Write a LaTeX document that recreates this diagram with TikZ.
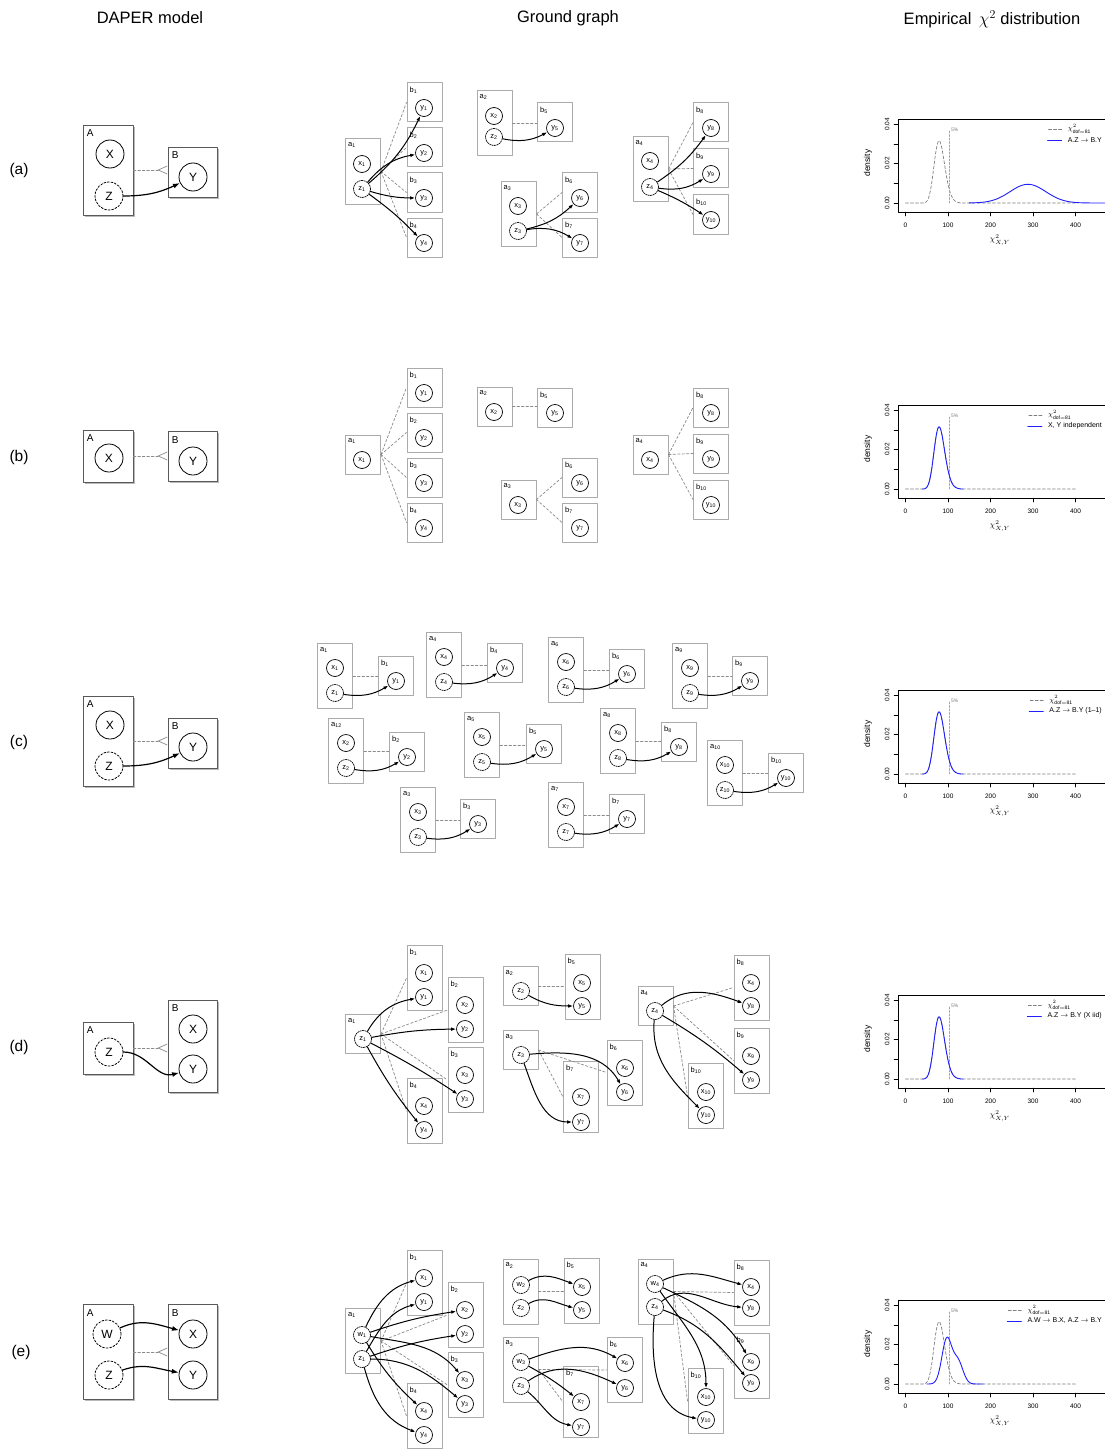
\documentclass[tikz,border=0pt]{standalone}
\usepackage{fontspec}
\setmainfont{Liberation Sans}
\usetikzlibrary{positioning, arrows.meta, shadows}
\definecolor{boxline}{HTML}{ABABAB}
\definecolor{plateline}{HTML}{8A8A8A}
\definecolor{chiline}{HTML}{7F7F7F}
\definecolor{simblue}{HTML}{1F1FFF}

\begin{document}
\begin{tikzpicture}[
  x=1pt, y=-1pt,
  line cap=round, line join=round,
  >={Latex[length=5pt, width=3.6pt]},
  declare function={chi(\t)=exp(39.5*ln(\t)-0.5*\t-136.545);},
  head/.style     = {font=\fontsize{16.5}{18}\selectfont, inner sep=0pt},
  rowlbl/.style   = {font=\fontsize{15.5}{17}\selectfont, inner sep=0pt},
  % DAPER model
  plate/.style    = {draw=black!65, line width=0.8pt, fill=white, inner sep=0pt,
                     minimum width=50pt,
                     drop shadow={shadow xshift=1.8pt, shadow yshift=-1.8pt,
                                  opacity=0.45, fill=black!60}},
  platelbl/.style = {font=\fontsize{10}{10}\selectfont, anchor=north west, inner sep=0pt},
  attr/.style     = {draw, circle, line width=0.8pt, fill=white, minimum size=28pt,
                     inner sep=0pt, font=\fontsize{12}{12}\selectfont},
  hid/.style      = {attr, dash pattern=on 2pt off 1.6pt},
  rel/.style      = {draw=plateline, line width=0.7pt, dash pattern=on 2.5pt off 2pt,
                     -{Straight Barb[reversed, length=9pt, width=8pt, line width=0.7pt]}},
  dep/.style      = {->, line width=1.2pt, >={Latex[length=7pt, width=5pt]}},
  % ground graph
  gbox/.style     = {draw=boxline, line width=1pt, minimum width=35pt,
                     minimum height=39pt, inner sep=0pt},
  gtall/.style    = {gbox, minimum height=65pt},
  glbl/.style     = {font=\fontsize{7.5}{7.5}\selectfont, anchor=north west, inner sep=0pt},
  gvar/.style     = {draw, circle, line width=0.7pt, fill=white, minimum size=17pt,
                     inner sep=0pt, font=\fontsize{7.5}{7.5}\selectfont},
  glat/.style     = {gvar, dash pattern=on 1.5pt off 1pt},
  gplate/.style   = {draw=plateline, line width=0.7pt, dash pattern=on 2.5pt off 2pt},
  gdep/.style     = {->, line width=1pt},
  % density plots
  tick/.style     = {font=\fontsize{6.5}{6.5}\selectfont, inner sep=0pt},
  axl/.style      = {font=\fontsize{8.5}{8.5}\selectfont, inner sep=0pt},
  lgd/.style      = {font=\fontsize{7}{7}\selectfont, inner sep=0pt},
  chidash/.style  = {draw=chiline, line width=0.7pt, dash pattern=on 3pt off 2pt},
  simcurve/.style = {draw=simblue, line width=0.9pt}
]

\fill[white] (0,0) rectangle (1104,1450);
\useasboundingbox (0,0) rectangle (1104,1450);

% column heads
\node[head] (h1) at (150,18) {DAPER model};
\node[head] (h2) at (568,18) {Ground graph};
\node[head] (h3) at (992,19) {Empirical \,$\chi^2$ distribution};

% row labels
\node[rowlbl] (la) at (19,170)  {(a)};
\node[rowlbl] (lb) at (19,457)  {(b)};
\node[rowlbl] (lc) at (19,742)  {(c)};
\node[rowlbl] (ld) at (19,1047) {(d)};
\node[rowlbl] (le) at (21,1352) {(e)};

% ---------------- DAPER models ----------------
% (a)
\node[plate, minimum height=90pt] (ra-A) at (108,170) {};
\node[plate, minimum width=49pt, minimum height=50pt] (ra-B) at (192.5,172) {};
\node[platelbl] (ra-Al) at ([shift={(4,5)}]ra-A.north west) {A};
\node[platelbl] (ra-Bl) at ([shift={(4,5)}]ra-B.north west) {B};
\node[attr] (ra-X) at (110,154) {X};
\node[hid]  (ra-Z) at (109,196) {Z};
\node[attr] (ra-Y) at (193,177) {Y};
\draw[rel] (ra-A.east) -- (ra-A.east -| ra-B.west);
\draw[dep] (ra-Z) to[out=0, in=205] (ra-Y);
% (b)
\node[plate, minimum height=52pt] (rb-A) at (108,456) {};
\node[plate, minimum width=49pt, minimum height=50pt] (rb-B) at (192.5,456.5) {};
\node[platelbl] (rb-Al) at ([shift={(4,5)}]rb-A.north west) {A};
\node[platelbl] (rb-Bl) at ([shift={(4,5)}]rb-B.north west) {B};
\node[attr] (rb-X) at (109,458) {X};
\node[attr] (rb-Y) at (193,461) {Y};
\draw[rel] (rb-A.east) -- (rb-A.east -| rb-B.west);
% (c)
\node[plate, minimum height=90pt] (rc-A) at (108,741) {};
\node[plate, minimum width=49pt, minimum height=50pt] (rc-B) at (192.5,743) {};
\node[platelbl] (rc-Al) at ([shift={(4,5)}]rc-A.north west) {A};
\node[platelbl] (rc-Bl) at ([shift={(4,5)}]rc-B.north west) {B};
\node[attr] (rc-X) at (110,725) {X};
\node[hid]  (rc-Z) at (109,766) {Z};
\node[attr] (rc-Y) at (193,747) {Y};
\draw[rel] (rc-A.east) -- (rc-A.east -| rc-B.west);
\draw[dep] (rc-Z) to[out=0, in=205] (rc-Y);
% (d)
\node[plate, minimum height=52pt] (rd-A) at (108,1048) {};
\node[plate, minimum width=49pt, minimum height=92pt] (rd-B) at (192.5,1046) {};
\node[platelbl] (rd-Al) at ([shift={(4,5)}]rd-A.north west) {A};
\node[platelbl] (rd-Bl) at ([shift={(4,5)}]rd-B.north west) {B};
\node[hid]  (rd-Z) at (109,1052) {Z};
\node[attr] (rd-X) at (193,1029) {X};
\node[attr] (rd-Y) at (193,1069) {Y};
\draw[rel] (rd-A.east) -- (rd-A.east -| rd-B.west);
\draw[dep] (rd-Z) to[out=0, in=195] (rd-Y);
% (e)
\node[plate, minimum height=95pt] (re-A) at (108,1352) {};
\node[plate, minimum width=49pt, minimum height=95pt] (re-B) at (192.5,1352) {};
\node[platelbl] (re-Al) at ([shift={(4,5)}]re-A.north west) {A};
\node[platelbl] (re-Bl) at ([shift={(4,5)}]re-B.north west) {B};
\node[hid]  (re-W) at (107,1334) {W};
\node[hid]  (re-Z) at (109,1375) {Z};
\node[attr] (re-X) at (193,1334) {X};
\node[attr] (re-Y) at (193,1375) {Y};
\draw[rel] (re-A.east) -- (re-A.east -| re-B.west);
\draw[dep] (re-W) to[out=25, in=165] (re-X);
\draw[dep] (re-Z) to[out=20, in=170] (re-Y);

% ---------------- ground graph (a) ----------------
\node[gtall] (ra-a1) at (363,171.5) {};
\node[glbl] (ra-la1) at ([shift={(3,4)}]ra-a1.north west) {a\textsubscript{1}};
\node[gvar] (ra-x1) at (362,164) {x\textsubscript{1}};
\node[glat] (ra-z1) at (362,189) {z\textsubscript{1}};
\foreach \k/\yy in {1/108, 2/153, 3/198, 4/243} {
  \node[gbox] (ra-b\k) at (424.5,\yy-5.5) {};
  \node[glbl] (ra-lb\k) at ([shift={(3,4)}]ra-b\k.north west) {b\textsubscript{\k}};
  \node[gvar] (ra-y\k) at (424,\yy) {y\textsubscript{\k}};
  \draw[gplate] (ra-a1.east) -- (ra-b\k.west);
}
\node[gtall] (ra-a2) at (494.5,123) {};
\node[glbl] (ra-la2) at ([shift={(3,4)}]ra-a2.north west) {a\textsubscript{2}};
\node[gvar] (ra-x2) at (494,116) {x\textsubscript{2}};
\node[glat] (ra-z2) at (494,137) {z\textsubscript{2}};
\node[gbox] (ra-b5) at (555,122.5) {};
\node[glbl] (ra-lb5) at ([shift={(3,4)}]ra-b5.north west) {b\textsubscript{5}};
\node[gvar] (ra-y5) at (555,128) {y\textsubscript{5}};
\draw[gplate] (ra-a2.east) -- (ra-a2.east -| ra-b5.west);
\node[gtall] (ra-a3) at (518.5,214) {};
\node[glbl] (ra-la3) at ([shift={(3,4)}]ra-a3.north west) {a\textsubscript{3}};
\node[gvar] (ra-x3) at (518,206) {x\textsubscript{3}};
\node[glat] (ra-z3) at (518,231) {z\textsubscript{3}};
\foreach \k/\yy in {6/198, 7/243} {
  \node[gbox] (ra-b\k) at (580,\yy-5.5) {};
  \node[glbl] (ra-lb\k) at ([shift={(3,4)}]ra-b\k.north west) {b\textsubscript{\k}};
  \node[gvar] (ra-y\k) at (580,\yy) {y\textsubscript{\k}};
  \draw[gplate] (ra-a3.east) -- (ra-b\k.west);
}
\node[gtall] (ra-a4) at (650.5,169) {};
\node[glbl] (ra-la4) at ([shift={(3,4)}]ra-a4.north west) {a\textsubscript{4}};
\node[gvar] (ra-x4) at (650,161) {x\textsubscript{4}};
\node[glat] (ra-z4) at (650,187) {z\textsubscript{4}};
\foreach \k/\yy in {8/128, 9/174, 10/220} {
  \node[gbox] (ra-b\k) at (711,\yy-5.5) {};
  \node[glbl] (ra-lb\k) at ([shift={(3,4)}]ra-b\k.north west) {b\textsubscript{\k}};
  \node[gvar] (ra-y\k) at (711,\yy) {y\textsubscript{\k}};
  \draw[gplate] (ra-a4.east) -- (ra-b\k.west);
}
\draw[gdep] (ra-z1) to[bend right=12] (ra-y1);
\draw[gdep] (ra-z1) to[bend left=20] (ra-y2);
\draw[gdep] (ra-z1) to[bend right=8] (ra-y3);
\draw[gdep] (ra-z1) to[bend left=5] (ra-y4);
\draw[gdep] (ra-z2) to[bend right=20] (ra-y5);
\draw[gdep] (ra-z3) to[bend right=15] (ra-y6);
\draw[gdep] (ra-z3) to[bend left=20] (ra-y7);
\draw[gdep] (ra-z4) to[bend right=10] (ra-y8);
\draw[gdep] (ra-z4) to[bend right=20] (ra-y9);
\draw[gdep] (ra-z4) to[bend left=5] (ra-y10);

% ---------------- ground graph (b) ----------------
\node[gbox] (rb-a1) at (363,454.5) {};
\node[glbl] (rb-la1) at ([shift={(3,4)}]rb-a1.north west) {a\textsubscript{1}};
\node[gvar] (rb-x1) at (362,460) {x\textsubscript{1}};
\foreach \k/\yy in {1/393, 2/438, 3/483, 4/528} {
  \node[gbox] (rb-b\k) at (424.5,\yy-5.5) {};
  \node[glbl] (rb-lb\k) at ([shift={(3,4)}]rb-b\k.north west) {b\textsubscript{\k}};
  \node[gvar] (rb-y\k) at (424,\yy) {y\textsubscript{\k}};
  \draw[gplate] (rb-a1.east) -- (rb-b\k.west);
}
\node[gbox] (rb-a2) at (494.5,406.5) {};
\node[glbl] (rb-la2) at ([shift={(3,4)}]rb-a2.north west) {a\textsubscript{2}};
\node[gvar] (rb-x2) at (494,412) {x\textsubscript{2}};
\node[gbox] (rb-b5) at (555,407.5) {};
\node[glbl] (rb-lb5) at ([shift={(3,4)}]rb-b5.north west) {b\textsubscript{5}};
\node[gvar] (rb-y5) at (555,413) {y\textsubscript{5}};
\draw[gplate] (rb-a2.east) -- (rb-a2.east -| rb-b5.west);
\node[gbox] (rb-a3) at (518.5,499.5) {};
\node[glbl] (rb-la3) at ([shift={(3,4)}]rb-a3.north west) {a\textsubscript{3}};
\node[gvar] (rb-x3) at (518,505) {x\textsubscript{3}};
\foreach \k/\yy in {6/483, 7/528} {
  \node[gbox] (rb-b\k) at (580,\yy-5.5) {};
  \node[glbl] (rb-lb\k) at ([shift={(3,4)}]rb-b\k.north west) {b\textsubscript{\k}};
  \node[gvar] (rb-y\k) at (580,\yy) {y\textsubscript{\k}};
  \draw[gplate] (rb-a3.east) -- (rb-b\k.west);
}
\node[gbox] (rb-a4) at (650.5,454.5) {};
\node[glbl] (rb-la4) at ([shift={(3,4)}]rb-a4.north west) {a\textsubscript{4}};
\node[gvar] (rb-x4) at (650,460) {x\textsubscript{4}};
\foreach \k/\yy in {8/413, 9/459, 10/505} {
  \node[gbox] (rb-b\k) at (711,\yy-5.5) {};
  \node[glbl] (rb-lb\k) at ([shift={(3,4)}]rb-b\k.north west) {b\textsubscript{\k}};
  \node[gvar] (rb-y\k) at (711,\yy) {y\textsubscript{\k}};
  \draw[gplate] (rb-a4.east) -- (rb-b\k.west);
}

% ---------------- ground graph (c): one a per b ----------------
\foreach \i/\al/\ax/\ay/\bx/\by in {1/1/335/668/396/681, 2/12/346/743/407/757,
    3/3/418/812/478/824, 4/4/444/657/505/668, 5/5/482/737/544/749,
    6/6/566/662/627/674, 7/7/566/807/627/819, 8/8/618/733/679/747,
    9/9/690/668/750/681, 10/10/725/765/786/778} {
  \node[gtall] (rc-a\i) at (\ax,\ay+8) {};
  \node[glbl] (rc-la\i) at ([shift={(3,4)}]rc-a\i.north west) {a\textsubscript{\al}};
  \node[gvar] (rc-x\i) at (\ax,\ay) {x\textsubscript{\i}};
  \node[glat] (rc-z\i) at (\ax,\ay+25) {z\textsubscript{\i}};
  \node[gbox] (rc-b\i) at (\bx,\by-5) {};
  \node[glbl] (rc-lb\i) at ([shift={(3,4)}]rc-b\i.north west) {b\textsubscript{\i}};
  \node[gvar] (rc-y\i) at (\bx,\by) {y\textsubscript{\i}};
  \draw[gplate] (rc-a\i.east) -- (rc-a\i.east -| rc-b\i.west);
  \draw[gdep] (rc-z\i) to[bend right=20] (rc-y\i);
}

% ---------------- ground graph (d) ----------------
\node[gbox] (rd-a1) at (363,1034) {};
\node[glbl] (rd-la1) at ([shift={(3,4)}]rd-a1.north west) {a\textsubscript{1}};
\node[glat] (rd-z1) at (363,1039) {z\textsubscript{1}};
\foreach \k/\bx/\yy in {1/424/973, 2/465/1005, 3/465/1075, 4/424/1106} {
  \node[gtall] (rd-b\k) at (\bx+0.5,\yy+5) {};
  \node[glbl] (rd-lb\k) at ([shift={(3,4)}]rd-b\k.north west) {b\textsubscript{\k}};
  \node[gvar] (rd-x\k) at (\bx,\yy) {x\textsubscript{\k}};
  \node[gvar] (rd-y\k) at (\bx,\yy+24) {y\textsubscript{\k}};
  \draw[gplate] (rd-a1.east) -- (rd-b\k.west);
}
\node[gbox] (rd-a2) at (520.5,986) {};
\node[glbl] (rd-la2) at ([shift={(3,4)}]rd-a2.north west) {a\textsubscript{2}};
\node[glat] (rd-z2) at (521,991) {z\textsubscript{2}};
\node[gtall] (rd-b5) at (582.5,986.5) {};
\node[glbl] (rd-lb5) at ([shift={(3,4)}]rd-b5.north west) {b\textsubscript{5}};
\node[gvar] (rd-x5) at (582,983) {x\textsubscript{5}};
\node[gvar] (rd-y5) at (582,1006) {y\textsubscript{5}};
\draw[gplate] (rd-a2.east) -- (rd-a2.east -| rd-b5.west);
\node[gbox] (rd-a3) at (520.5,1050) {};
\node[glbl] (rd-la3) at ([shift={(3,4)}]rd-a3.north west) {a\textsubscript{3}};
\node[glat] (rd-z3) at (521,1055) {z\textsubscript{3}};
\node[gtall] (rd-b6) at (624.5,1072.5) {};
\node[glbl] (rd-lb6) at ([shift={(3,4)}]rd-b6.north west) {b\textsubscript{6}};
\node[gvar] (rd-x6) at (625,1068) {x\textsubscript{6}};
\node[gvar] (rd-y6) at (625,1092) {y\textsubscript{6}};
\node[gtall, minimum height=71pt] (rd-b7) at (581,1097) {};
\node[glbl] (rd-lb7) at ([shift={(3,4)}]rd-b7.north west) {b\textsubscript{7}};
\node[gvar] (rd-x7) at (581,1097) {x\textsubscript{7}};
\node[gvar] (rd-y7) at (581,1122) {y\textsubscript{7}};
\draw[gplate] (rd-a3.east) -- (rd-b6.west);
\draw[gplate] (rd-a3.east) -- (rd-b7.west);
\node[gbox] (rd-a4) at (655.5,1006) {};
\node[glbl] (rd-la4) at ([shift={(3,4)}]rd-a4.north west) {a\textsubscript{4}};
\node[glat] (rd-z4) at (655,1011) {z\textsubscript{4}};
\node[gtall] (rd-b8) at (751.5,987.5) {};
\node[glbl] (rd-lb8) at ([shift={(3,4)}]rd-b8.north west) {b\textsubscript{8}};
\node[gvar] (rd-x8) at (751,983) {x\textsubscript{4}};
\node[gvar] (rd-y8) at (751,1006) {y\textsubscript{8}};
\node[gtall] (rd-b9) at (751.5,1060.5) {};
\node[glbl] (rd-lb9) at ([shift={(3,4)}]rd-b9.north west) {b\textsubscript{9}};
\node[gvar] (rd-x9) at (751,1056) {x\textsubscript{9}};
\node[gvar] (rd-y9) at (751,1080) {y\textsubscript{9}};
\node[gtall] (rd-b10) at (705.5,1096) {};
\node[glbl] (rd-lb10) at ([shift={(3,4)}]rd-b10.north west) {b\textsubscript{10}};
\node[gvar] (rd-x10) at (706,1092) {x\textsubscript{10}};
\node[gvar] (rd-y10) at (706,1115) {y\textsubscript{10}};
\foreach \k in {8,9,10}
  \draw[gplate] (rd-a4.east) -- (rd-b\k.west);
\draw[gdep] (rd-z1) to[out=60, in=190] (rd-y1);
\draw[gdep] (rd-z1) to[bend left=5] (rd-y2);
\draw[gdep] (rd-z1) to[bend left=3] (rd-y3);
\draw[gdep] (rd-z1) to[bend right=5] (rd-y4);
\draw[gdep] (rd-z2) to[out=-30, in=180] (rd-y5);
\draw[gdep] (rd-z3) to[out=5, in=120] (rd-y6);
\draw[gdep] (rd-z3) to[out=-70, in=180] (rd-y7);
\draw[gdep] (rd-z4) to[out=40, in=160] (rd-y8);
\draw[gdep] (rd-z4) to[bend left=5] (rd-y9);
\draw[gdep] (rd-z4) to[out=-95, in=135] (rd-y10);

% ---------------- ground graph (e) ----------------
\node[gtall] (re-a1) at (363,1341) {};
\node[glbl] (re-la1) at ([shift={(3,4)}]re-a1.north west) {a\textsubscript{1}};
\node[glat] (re-w1) at (362,1335) {w\textsubscript{1}};
\node[glat] (re-z1) at (362,1359) {z\textsubscript{1}};
\foreach \k/\bx/\yy in {1/424/1278, 2/465/1310, 3/465/1380, 4/424/1411} {
  \node[gtall] (re-b\k) at (\bx+0.5,\yy+5) {};
  \node[glbl] (re-lb\k) at ([shift={(3,4)}]re-b\k.north west) {b\textsubscript{\k}};
  \node[gvar] (re-x\k) at (\bx,\yy) {x\textsubscript{\k}};
  \node[gvar] (re-y\k) at (\bx,\yy+24) {y\textsubscript{\k}};
  \draw[gplate] (re-a1.east) -- (re-b\k.west);
}
\node[gtall] (re-a2) at (520.5,1291.5) {};
\node[glbl] (re-la2) at ([shift={(3,4)}]re-a2.north west) {a\textsubscript{2}};
\node[glat] (re-w2) at (521,1285) {w\textsubscript{2}};
\node[glat] (re-z2) at (521,1308) {z\textsubscript{2}};
\node[gtall] (re-b5) at (581.5,1291) {};
\node[glbl] (re-lb5) at ([shift={(3,4)}]re-b5.north west) {b\textsubscript{5}};
\node[gvar] (re-x5) at (582,1287) {x\textsubscript{5}};
\node[gvar] (re-y5) at (582,1310) {y\textsubscript{5}};
\draw[gplate] (re-a2.east) -- (re-a2.east -| re-b5.west);
\node[gtall] (re-a3) at (520.5,1369.5) {};
\node[glbl] (re-la3) at ([shift={(3,4)}]re-a3.north west) {a\textsubscript{3}};
\node[glat] (re-w3) at (521,1362) {w\textsubscript{3}};
\node[glat] (re-z3) at (521,1386) {z\textsubscript{3}};
\node[gtall] (re-b6) at (624.5,1370) {};
\node[glbl] (re-lb6) at ([shift={(3,4)}]re-b6.north west) {b\textsubscript{6}};
\node[gvar] (re-x6) at (625,1363) {x\textsubscript{6}};
\node[gvar] (re-y6) at (625,1388) {y\textsubscript{6}};
\node[gtall, minimum height=71pt] (re-b7) at (581,1402) {};
\node[glbl] (re-lb7) at ([shift={(3,4)}]re-b7.north west) {b\textsubscript{7}};
\node[gvar] (re-x7) at (581,1402) {x\textsubscript{7}};
\node[gvar] (re-y7) at (581,1427) {y\textsubscript{7}};
\draw[gplate] (re-a3.east) -- (re-b6.west);
\draw[gplate] (re-a3.east) -- (re-b7.west);
\node[gtall] (re-a4) at (655.5,1291.5) {};
\node[glbl] (re-la4) at ([shift={(3,4)}]re-a4.north west) {a\textsubscript{4}};
\node[glat] (re-w4) at (655,1284) {w\textsubscript{4}};
\node[glat] (re-z4) at (655,1307) {z\textsubscript{4}};
\node[gtall] (re-b8) at (751.5,1292.5) {};
\node[glbl] (re-lb8) at ([shift={(3,4)}]re-b8.north west) {b\textsubscript{8}};
\node[gvar] (re-x8) at (751,1287) {x\textsubscript{4}};
\node[gvar] (re-y8) at (751,1308) {y\textsubscript{8}};
\node[gtall] (re-b9) at (751.5,1365.5) {};
\node[glbl] (re-lb9) at ([shift={(3,4)}]re-b9.north west) {b\textsubscript{9}};
\node[gvar] (re-x9) at (751,1362) {x\textsubscript{9}};
\node[gvar] (re-y9) at (751,1383) {y\textsubscript{9}};
\node[gtall] (re-b10) at (705.5,1401) {};
\node[glbl] (re-lb10) at ([shift={(3,4)}]re-b10.north west) {b\textsubscript{10}};
\node[gvar] (re-x10) at (706,1397) {x\textsubscript{10}};
\node[gvar] (re-y10) at (706,1420) {y\textsubscript{10}};
\foreach \k in {8,9,10}
  \draw[gplate] (re-a4.east) -- (re-b\k.west);
\draw[gdep] (re-w1) to[out=65, in=195] (re-x1);
\draw[gdep] (re-z1) to[out=60, in=195] (re-y1);
\draw[gdep] (re-w1) to[bend left=5] (re-x2);
\draw[gdep] (re-z1) to[bend left=5] (re-y2);
\draw[gdep] (re-w1) to[out=-10, in=130] (re-x3);
\draw[gdep] (re-z1) to[out=0, in=140] (re-y3);
\draw[gdep] (re-w1) to[bend right=8] (re-x4);
\draw[gdep] (re-z1) to[out=-75, in=160] (re-y4);
\draw[gdep] (re-w2) to[out=30, in=160] (re-x5);
\draw[gdep] (re-z2) to[out=30, in=165] (re-y5);
\draw[gdep] (re-w3) to[out=20, in=150] (re-x6);
\draw[gdep] (re-z3) to[out=35, in=155] (re-y6);
\draw[gdep] (re-w3) to[bend left=5] (re-x7);
\draw[gdep] (re-z3) to[out=-40, in=170] (re-y7);
\draw[gdep] (re-w4) to[out=25, in=165] (re-x8);
\draw[gdep] (re-z4) to[out=40, in=175] (re-y8);
\draw[gdep] (re-w4) to[out=-25, in=120] (re-x9);
\draw[gdep] (re-z4) to[out=-20, in=130] (re-y9);
\draw[gdep] (re-w4) to[out=-55, in=90] (re-x10);
\draw[gdep] (re-z4) to[out=-95, in=170] (re-y10);

% ---------------- empirical chi^2 panels ----------------
\foreach \oy/\txt in {0/{A.Z $\rightarrow$ B.Y}, 286/{X, Y independent},
    571/{A.Z $\rightarrow$ B.Y (1--1)}, 876/{A.Z $\rightarrow$ B.Y (X iid)},
    1181/{A.W $\rightarrow$ B.X, A.Z $\rightarrow$ B.Y}} {
  \begin{scope}[shift={(0,\oy)}]
    \draw[line width=0.6pt] (898,119) rectangle (1130,212);
    \foreach \v in {0,...,4}
      \draw[line width=0.5pt] (898,203-19.7*\v) -- (894,203-19.7*\v);
    \foreach \v in {0,2,4}
      \node[tick, rotate=90] (yt\v-\oy) at (887,203-19.7*\v) {0.0\v};
    \foreach \v in {0,...,4} {
      \draw[line width=0.5pt] (905.5+42.5*\v,212) -- (905.5+42.5*\v,216);
      \node[tick] (xt\v-\oy) at (905.5+42.5*\v,225) {\the\numexpr100*\v\relax};
    }
    \node[axl, rotate=90] (dn-\oy) at (868,163) {density};
    \node[axl] (xl-\oy) at (1000,240) {$\chi^2_{X,Y}$};
    \draw[chidash] (905.5,203) -- plot[domain=30:170, samples=90]
      ({905.5+0.425*\x},{203-1970*chi(\x)}) -- (1075.5,203);
    \draw[draw=chiline!70, line width=0.8pt, dash pattern=on 2pt off 1.5pt] (949,203) -- (949,130);
    \node[font=\fontsize{5}{5}\selectfont, text=chiline, inner sep=0pt, anchor=west] (pct-\oy) at (951,130) {5\%};
    \node[lgd, anchor=east] (lg2-\oy) at (1102,140) {\txt};
    \node[lgd, anchor=west] (lg1-\oy) at ([yshift=11pt]lg2-\oy.west) {$\chi^2_{\mathrm{dof=81}}$};
    \draw[chidash] ([xshift=-6pt]lg2-\oy.west) ++(0,-11) -- ++(-14,0);
    \draw[simcurve] ([xshift=-6pt]lg2-\oy.west) -- ++(-14,0);
  \end{scope}
}
% simulated curves
\draw[simcurve] plot[domain=150:480, samples=90]
  ({905.5+0.425*\x},{203-18.7*exp(-0.5*((\x-288)/42)*((\x-288)/42))});
\begin{scope}[shift={(0,286)}]
  \draw[simcurve] plot[domain=40:135, samples=60] ({905.5+0.425*\x},{203-1970*chi(\x)});
\end{scope}
\begin{scope}[shift={(0,571)}]
  \draw[simcurve] plot[domain=40:135, samples=60] ({905.5+0.425*\x},{203-1970*chi(\x)});
\end{scope}
\begin{scope}[shift={(0,876)}]
  \draw[simcurve] plot[domain=40:135, samples=60] ({905.5+0.425*\x},{203-1970*chi(\x)});
\end{scope}
\begin{scope}[shift={(0,1181)}]
  \draw[simcurve] plot[domain=50:182, samples=80]
    ({905.5+0.425*\x},{203-44.4*exp(-0.5*((\x-97)/11.5)*((\x-97)/11.5))-22.9*exp(-0.5*((\x-123)/12)*((\x-123)/12))});
\end{scope}

\end{tikzpicture}
\end{document}
